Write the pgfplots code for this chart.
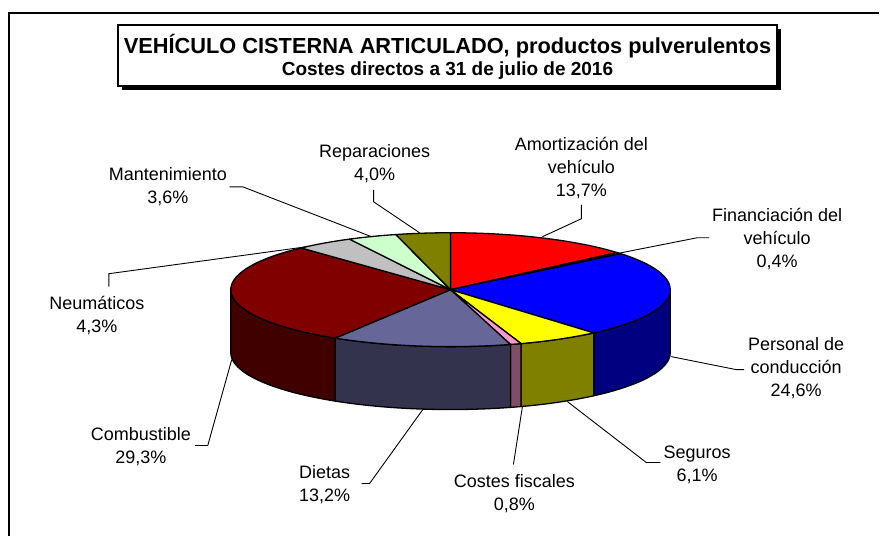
\documentclass[border=0pt]{standalone}
\usepackage{pgfplots}
\usepackage{pgfplotstable}
\pgfplotsset{compat=1.18}
\usepackage{fontspec}
\setmainfont{Liberation Sans}

\definecolor{tAmort}{HTML}{FF0000}
\definecolor{tFin}{HTML}{33CC33}
\definecolor{tPers}{HTML}{0000FF}
\definecolor{tSeg}{HTML}{FFFF00}
\definecolor{tCF}{HTML}{FF99CC}
\definecolor{tDiet}{HTML}{666699}
\definecolor{tComb}{HTML}{800000}
\definecolor{tNeum}{HTML}{C0C0C0}
\definecolor{tMant}{HTML}{CCFFCC}
\definecolor{tRep}{HTML}{808000}
\definecolor{sAmort}{HTML}{800000}
\definecolor{sFin}{HTML}{1A661A}
\definecolor{sPers}{HTML}{000080}
\definecolor{sSeg}{HTML}{808000}
\definecolor{sCF}{HTML}{804C66}
\definecolor{sDiet}{HTML}{33334D}
\definecolor{sComb}{HTML}{400000}
\definecolor{sNeum}{HTML}{606060}
\definecolor{sMant}{HTML}{668066}
\definecolor{sRep}{HTML}{404000}

% percentages of the direct costs, clockwise from 12 o'clock
\pgfplotstableread{
idx value top side
0 13.7 tAmort sAmort
1 0.4 tFin sFin
2 24.6 tPers sPers
3 6.1 tSeg sSeg
4 0.8 tCF sCF
5 13.2 tDiet sDiet
6 29.3 tComb sComb
7 4.3 tNeum sNeum
8 3.6 tMant sMant
9 4.0 tRep sRep
}\piedata

\newcommand\computeangles{%
  \gdef\cumsum{0}%
  \pgfplotsforeachungrouped \i in {0,...,9}{%
    \pgfplotstablegetelem{\i}{value}\of\piedata
    \pgfmathsetmacro\tmpa{\cumsum*3.6}%
    \pgfmathsetmacro\tmpb{(\cumsum+\pgfplotsretval)*3.6}%
    \expandafter\xdef\csname angA\i\endcsname{\tmpa}%
    \expandafter\xdef\csname angB\i\endcsname{\tmpb}%
    \pgfmathsetmacro\tmpc{\cumsum+\pgfplotsretval}%
    \xdef\cumsum{\tmpc}%
    \pgfplotstablegetelem{\i}{top}\of\piedata
    \expandafter\xdef\csname colT\i\endcsname{\pgfplotsretval}%
    \pgfplotstablegetelem{\i}{side}\of\piedata
    \expandafter\xdef\csname colS\i\endcsname{\pgfplotsretval}%
  }%
}

\begin{document}
\begin{tikzpicture}
\computeangles
\begin{axis}[
  width=440pt, height=268.5pt, scale only axis,
  xmin=0, xmax=880, ymin=0, ymax=537, y dir=reverse,
  hide axis, clip=false,
]
\path (axis cs:0,0) rectangle (axis cs:880,537);
% outer frame
\draw[line width=1pt] (axis cs:9,537) -- (axis cs:9,13) -- (axis cs:880,13);
% title box
\fill[black] (axis cs:122,29) rectangle (axis cs:782,90);
\draw[fill=white, line width=0.7pt] (axis cs:118,25) rectangle (axis cs:778,86);
\node[font=\bfseries\fontsize{10.9}{13}\selectfont] at (axis cs:448,46) {VEHÍCULO CISTERNA ARTICULADO, productos pulverulentos};
\node[font=\bfseries\fontsize{9.5}{12}\selectfont] at (axis cs:448,71) {Costes directos a 31 de julio de 2016};

\pgfplotsextra{%
 \begin{scope}[shift={(axis cs:451,290)}]
   \foreach \i in {0,...,9}{%
     \pgfmathsetmacro\ta{max(\csname angA\i\endcsname,90)}%
     \pgfmathsetmacro\tb{min(\csname angB\i\endcsname,270)}%
     \pgfmathtruncatemacro\vis{\ta<\tb ? 1 : 0}%
     \ifnum\vis=1
       \pgfmathsetmacro\pa{90-\ta}%
       \pgfmathsetmacro\pb{90-\tb}%
       \edef\cs{\csname colS\i\endcsname}%
       \filldraw[fill=\cs, draw=black, line width=0.65pt, line join=round]
         (\pa:110pt and 28.5pt) arc[start angle=\pa, end angle=\pb, x radius=110pt, y radius=28.5pt]
         -- ++(0pt,-31.5pt) arc[start angle=\pb, end angle=\pa, x radius=110pt, y radius=28.5pt] -- cycle;
     \fi
   }%
   \foreach \i in {0,...,9}{%
     \pgfmathsetmacro\pa{90-\csname angA\i\endcsname}%
     \pgfmathsetmacro\pb{90-\csname angB\i\endcsname}%
     \edef\ct{\csname colT\i\endcsname}%
     \filldraw[fill=\ct, draw=black, line width=0.65pt, line join=round]
       (0pt,0pt) -- (\pa:110pt and 28.5pt) arc[start angle=\pa, end angle=\pb, x radius=110pt, y radius=28.5pt] -- cycle;
   }%
 \end{scope}
}

% leader lines
\begin{scope}[line width=0.45pt]
\draw (axis cs:374,190) -- (axis cs:374,202) -- (axis cs:420,233);
\draw (axis cs:582,205) -- (axis cs:582,219) -- (axis cs:543,237);
\draw (axis cs:710,238) -- (axis cs:698,238) -- (axis cs:617,254);
\draw (axis cs:745,370) -- (axis cs:737,370) -- (axis cs:672,357);
\draw (axis cs:661,463) -- (axis cs:647,463) -- (axis cs:568,402);
\draw (axis cs:514,465) -- (axis cs:523,407);
\draw (axis cs:362,484) -- (axis cs:370,484) -- (axis cs:424,409);
\draw (axis cs:195,446) -- (axis cs:208,446) -- (axis cs:232,360);
\draw (axis cs:109,287) -- (axis cs:109,274) -- (axis cs:307,247);
\draw (axis cs:230,187) -- (axis cs:243,187) -- (axis cs:372,237);
\end{scope}

% labels
\begin{scope}[every node/.style={align=center, inner sep=0pt, font=\fontsize{9}{11.5}\selectfont}]
\node at (axis cs:375,164) {Reparaciones\\4,0\%};
\node at (axis cs:582,168) {Amortización del\\vehículo\\13,7\%};
\node at (axis cs:168,187) {Mantenimiento\\3,6\%};
\node at (axis cs:778,239) {Financiación del\\vehículo\\0,4\%};
\node at (axis cs:97,316) {Neumáticos\\4,3\%};
\node at (axis cs:797,369) {Personal de\\conducción\\24,6\%};
\node at (axis cs:141,447) {Combustible\\29,3\%};
\node at (axis cs:698,465) {Seguros\\6,1\%};
\node at (axis cs:325,485) {Dietas\\13,2\%};
\node at (axis cs:515,494) {Costes fiscales\\0,8\%};
\end{scope}
\end{axis}
\end{tikzpicture}
\end{document}
